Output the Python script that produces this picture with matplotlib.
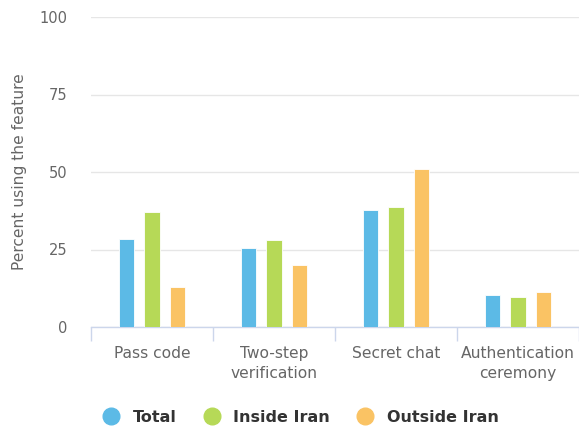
import numpy as np
import matplotlib.pyplot as plt
from matplotlib.lines import Line2D

# Values
categories = ['Pass code', 'Two-step\nverification', 'Secret chat', 'Authentication\nceremony']
total = [28.4, 25.4, 37.6, 10.2]
inside_iran = [37.2, 28.0, 38.6, 9.8]
outside_iran = [12.8, 20.0, 50.9, 11.2]

series = ['Total', 'Inside Iran', 'Outside Iran']
colors = ['#5cbae6', '#b6d957', '#fac364']

fig = plt.figure(figsize=(5.79, 4.29), dpi=100)
ax = fig.add_axes([91 / 579, 1 - 327 / 429, 488 / 579, 310 / 429])

x = np.arange(len(categories))
width = 0.125
pitch = 0.208
for i, (vals, c) in enumerate(zip([total, inside_iran, outside_iran], colors)):
    ax.bar(x + (i - 1) * pitch, vals, width=width, color=c,
           edgecolor='white', linewidth=0.6, zorder=3)

ax.set_xlim(-0.5, len(categories) - 0.5)
ax.set_ylim(0, 100)
ax.set_yticks([0, 25, 50, 75, 100])
ax.yaxis.grid(True, color='#e6e6e6', linewidth=1, zorder=0)
ax.tick_params(axis='y', length=0, labelsize=10.5, labelcolor='#666666', pad=17)

# category labels centered, ticks at boundaries
ax.set_xticks(x)
ax.set_xticklabels(categories, fontsize=11.2, color='#666666', linespacing=1.4)
ax.tick_params(axis='x', which='major', length=0, pad=14)
ax.set_xticks(np.arange(len(categories) + 1) - 0.5, minor=True)
ax.tick_params(axis='x', which='minor', length=10, color='#ccd6eb', width=1)

for s in ['top', 'right', 'left']:
    ax.spines[s].set_visible(False)
ax.spines['bottom'].set_color('#ccd6eb')
ax.spines['bottom'].set_linewidth(1)

ax.set_ylabel('Percent using the feature', fontsize=11.2, color='#666666', labelpad=9)

handles = [Line2D([0], [0], marker='o', linestyle='', markersize=12,
                  markerfacecolor=c, markeredgecolor=c) for c in colors]
fig.legend(handles, series, loc='center', bbox_to_anchor=(0.513, 0.027),
           ncol=3, frameon=False, prop={'weight': 'bold', 'size': 11.5},
           labelcolor='#333333', handletextpad=0.35, columnspacing=1.2)

fig.savefig('out.png', dpi=100)
